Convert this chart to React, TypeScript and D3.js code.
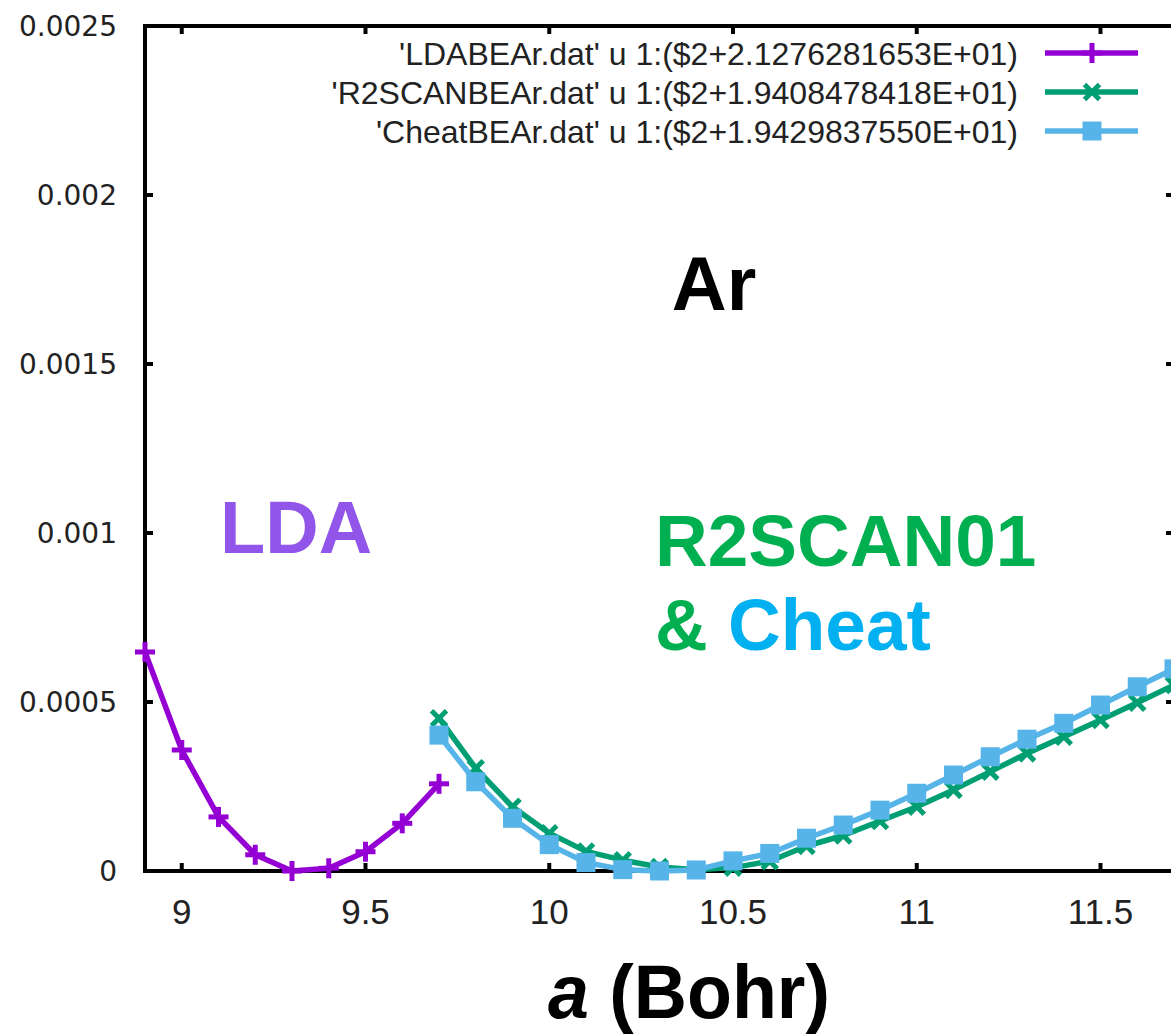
import React from "react";
import * as d3 from "d3";

// Lattice constants (Bohr) and shifted binding energies
const ldaA = [8.9, 9.0, 9.1, 9.2, 9.3, 9.4, 9.5, 9.6, 9.7];
const ldaE = [0.000648, 0.000358, 0.00016, 0.000048, 0.0, 0.000008, 0.000057, 0.000141, 0.000258];

const r2scanA = [9.7, 9.8, 9.9, 10.0, 10.1, 10.2, 10.3, 10.4, 10.5, 10.6, 10.7, 10.8, 10.9, 11.0, 11.1, 11.2, 11.3, 11.4, 11.5, 11.6, 11.7];
const r2scanE = [0.000452, 0.000304, 0.00019, 0.000112, 0.000058, 0.000032, 0.000012, 0.000004, 0.00001, 0.000029, 0.000074, 0.000105, 0.000148, 0.00019, 0.00024, 0.000294, 0.000348, 0.000397, 0.000447, 0.000498, 0.00055];

const cheatA = [9.7, 9.8, 9.9, 10.0, 10.1, 10.2, 10.3, 10.4, 10.5, 10.6, 10.7, 10.8, 10.9, 11.0, 11.1, 11.2, 11.3, 11.4, 11.5, 11.6, 11.7];
const cheatE = [0.000402, 0.000264, 0.000156, 0.000078, 0.000025, 0.000004, 0.0, 0.000003, 0.00003, 0.000052, 0.000097, 0.000136, 0.00018, 0.00023, 0.000284, 0.000338, 0.00039, 0.000437, 0.000491, 0.000545, 0.000598];

const xTicks = [9, 9.5, 10, 10.5, 11, 11.5];
const xTickLabels = ["9", "9.5", "10", "10.5", "11", "11.5"];
const yTicks = [0, 0.0005, 0.001, 0.0015, 0.002, 0.0025];
const yTickLabels = ["0", "0.0005", "0.001", "0.0015", "0.002", "0.0025"];

const legendLabels = [
  "'LDABEAr.dat' u 1:($2+2.1276281653E+01)",
  "'R2SCANBEAr.dat' u 1:($2+1.9408478418E+01)",
  "'CheatBEAr.dat' u 1:($2+1.9429837550E+01)",
];

const W = 1171;
const H = 1035;
const left = 145;
const right = 1174;
const top = 26;
const bottom = 871;

const COL_LDA = "#9400d3";
const COL_R2 = "#009e73";
const COL_CHEAT = "#56b4e9";
const LW = 5.5;

type Kind = "plus" | "cross" | "square";

function Marker({ x, y, kind, color }: { x: number; y: number; kind: Kind; color: string }) {
  if (kind === "plus") {
    const h = 10;
    return (
      <g stroke={color} strokeWidth={5}>
        <line x1={x - h} y1={y} x2={x + h} y2={y} />
        <line x1={x} y1={y - h} x2={x} y2={y + h} />
      </g>
    );
  }
  if (kind === "cross") {
    const h = 7.5;
    return (
      <g stroke={color} strokeWidth={5}>
        <line x1={x - h} y1={y - h} x2={x + h} y2={y + h} />
        <line x1={x - h} y1={y + h} x2={x + h} y2={y - h} />
      </g>
    );
  }
  const s = 19;
  return <rect x={x - s / 2} y={y - s / 2} width={s} height={s} fill={color} />;
}

export default function App() {
  const x = d3.scaleLinear().domain([8.9, 11.7]).range([left, right]);
  const y = d3.scaleLinear().domain([0, 0.0025]).range([bottom, top]);

  const series = [
    { a: ldaA, e: ldaE, color: COL_LDA, kind: "plus" as Kind },
    { a: r2scanA, e: r2scanE, color: COL_R2, kind: "cross" as Kind },
    { a: cheatA, e: cheatE, color: COL_CHEAT, kind: "square" as Kind },
  ];

  const line = d3
    .line<[number, number]>()
    .x((d) => x(d[0]))
    .y((d) => y(d[1]));

  const tickLen = 8;

  return (
    <svg
      width={W}
      height={H}
      viewBox={`0 0 ${W} ${H}`}
      style={{ position: "absolute", left: 0, top: 0, display: "block", background: "#fff" }}
    >
      <rect x={0} y={0} width={W} height={H} fill="#fff" />

      {/* plot frame */}
      <rect x={left} y={top} width={right - left} height={bottom - top} fill="none" stroke="#000" strokeWidth={4} />

      {/* y ticks and labels */}
      {yTicks.map((t, i) => (
        <g key={"y" + i}>
          <line x1={left} x2={left + tickLen} y1={y(t)} y2={y(t)} stroke="#000" strokeWidth={4} />
          <line x1={right} x2={right - tickLen} y1={y(t)} y2={y(t)} stroke="#000" strokeWidth={4} />
          <text
            x={117}
            y={y(t)}
            dy="0.36em"
            textAnchor="end"
            fontFamily="DejaVu Sans"
            fontSize={28}
            fill="#222"
          >
            {yTickLabels[i]}
          </text>
        </g>
      ))}

      {/* x ticks and labels */}
      {xTicks.map((t, i) => (
        <g key={"x" + i}>
          <line x1={x(t)} x2={x(t)} y1={bottom} y2={bottom - tickLen} stroke="#000" strokeWidth={4} />
          <line x1={x(t)} x2={x(t)} y1={top} y2={top + tickLen} stroke="#000" strokeWidth={4} />
          <text
            x={x(t)}
            y={924}
            textAnchor="middle"
            fontFamily="Liberation Sans Narrow, Liberation Sans, Arial"
            fontSize={35}
            fill="#222"
          >
            {xTickLabels[i]}
          </text>
        </g>
      ))}

      {/* data */}
      {series.map((s, si) => {
        const pts: [number, number][] = s.a.map((a, i) => [a, s.e[i]]);
        return (
          <g key={"s" + si}>
            <path d={line(pts) || ""} fill="none" stroke={s.color} strokeWidth={LW} strokeLinejoin="round" />
            {pts.map((p, i) => (
              <Marker key={i} x={x(p[0])} y={y(p[1])} kind={s.kind} color={s.color} />
            ))}
          </g>
        );
      })}

      {/* legend */}
      {series.map((s, i) => {
        const cy = 53 + i * 39;
        return (
          <g key={"l" + i}>
            <text
              x={1018}
              y={cy}
              dy="0.36em"
              textAnchor="end"
              fontFamily="Liberation Sans, Arial"
              fontSize={32}
              fill="#222"
            >
              {legendLabels[i]}
            </text>
            <line x1={1045} x2={1138} y1={cy} y2={cy} stroke={s.color} strokeWidth={LW} />
            <Marker x={1092} y={cy} kind={s.kind} color={s.color} />
          </g>
        );
      })}

      {/* annotations */}
      <text x={714} y={310} textAnchor="middle" fontFamily="Liberation Sans, Arial" fontWeight="bold" fontSize={76} fill="#000">
        Ar
      </text>
      <text x={220} y={553} fontFamily="Liberation Sans, Arial" fontWeight="bold" fontSize={74} fill="#9155ea">
        LDA
      </text>
      <text x={655} y={566} fontFamily="Liberation Sans, Arial" fontWeight="bold" fontSize={73} fill="#00b050">
        R2SCAN01
      </text>
      <text x={655} y={650} fontFamily="Liberation Sans, Arial" fontWeight="bold" fontSize={73}>
        <tspan fill="#00b050">&amp; </tspan>
        <tspan fill="#00b0f0">Cheat</tspan>
      </text>

      {/* axis title */}
      <text
        x={689}
        y={1018}
        textAnchor="middle"
        fontFamily="Liberation Sans, Arial"
        fontWeight="bold"
        fontSize={76}
        textLength={282}
        lengthAdjust="spacingAndGlyphs"
        fill="#000"
      >
        <tspan fontStyle="italic">a</tspan>
        <tspan> (Bohr)</tspan>
      </text>
    </svg>
  );
}
